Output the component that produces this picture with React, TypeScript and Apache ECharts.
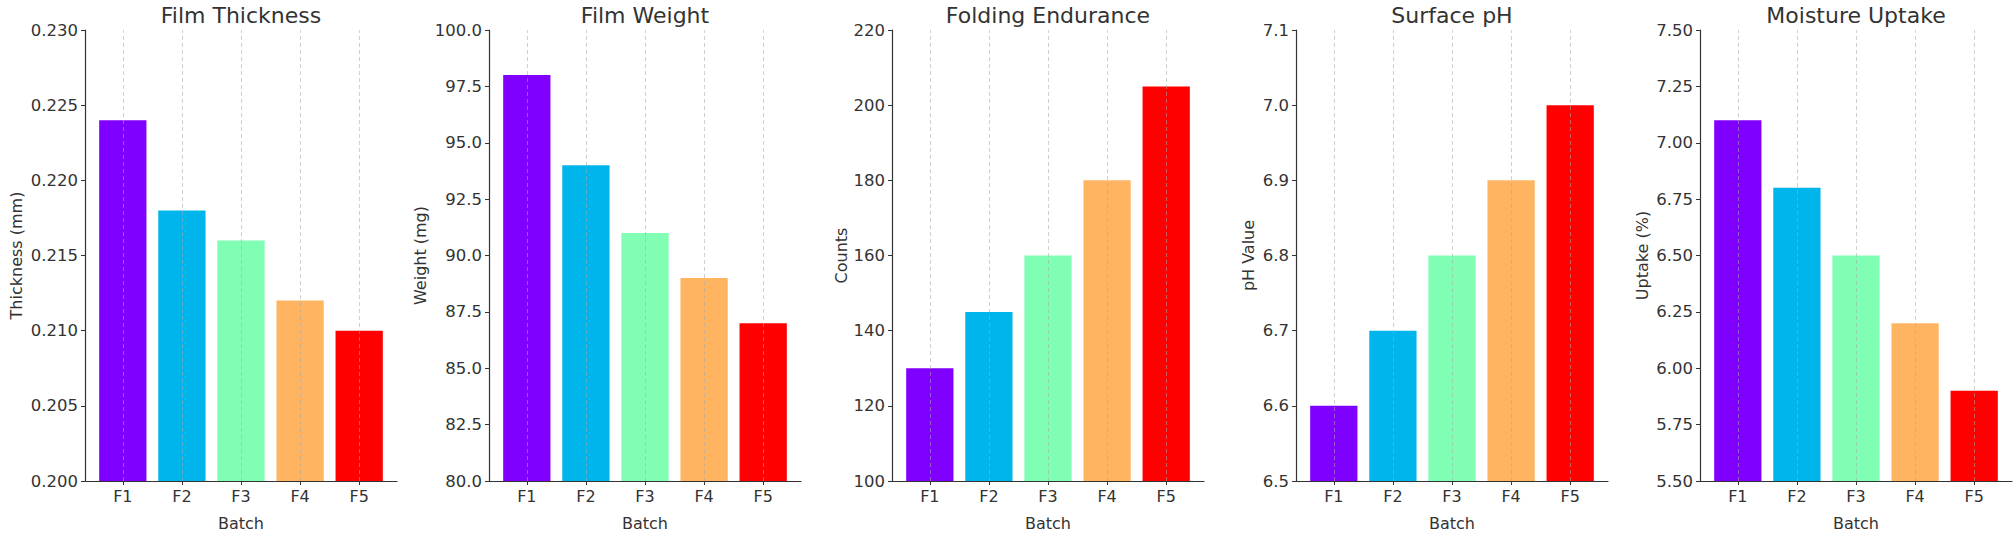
import React, { useEffect, useRef } from "react";
import * as echarts from "echarts";

// ---- data ----
const batches = ["F1", "F2", "F3", "F4", "F5"];
const barColors = ["#8000ff", "#00b5eb", "#80ffb4", "#ffb462", "#ff0000"];

const panelTitles = ["Film Thickness", "Film Weight", "Folding Endurance", "Surface pH", "Moisture Uptake"];
const yAxisNames = ["Thickness (mm)", "Weight (mg)", "Counts", "pH Value", "Uptake (%)"];
const xAxisName = "Batch";

const thickness = [0.224, 0.218, 0.216, 0.212, 0.21];
const weight = [98, 94, 91, 89, 87];
const folding = [130, 145, 160, 180, 205];
const surfacePH = [6.6, 6.7, 6.8, 6.9, 7.0];
const moisture = [7.1, 6.8, 6.5, 6.2, 5.9];

const yMins = [0.2, 80, 100, 6.5, 5.5];
const yMaxs = [0.23, 100, 220, 7.1, 7.5];
const yIntervals = [0.005, 2.5, 20, 0.1, 0.25];
const yDecimals = [3, 1, 0, 1, 2];

// ---- layout ----
const W = 2016;
const H = 536;
const gridLefts = [85, 489, 892, 1296, 1700];
const gridWidth = 312;
const gridTop = 30;
const gridHeight = 453;
const yNameGaps = [61, 61, 43, 40, 50];
const xMin = -0.64;
const xMax = 4.64;
const FONT = "DejaVu Sans";
const TEXT = "#333333";
const AXIS = "#333333";

const allValues = [thickness, weight, folding, surfacePH, moisture];

export default function App() {
  const ref = useRef<HTMLDivElement>(null);

  useEffect(() => {
    if (!ref.current) return;
    const chart = echarts.init(ref.current, null, { renderer: "svg", width: W, height: H });
    const barWidth = (0.8 * gridWidth) / (xMax - xMin);
    const idx = [0, 1, 2, 3, 4];

    const option: any = {
      animation: false,
      backgroundColor: "#ffffff",
      textStyle: { fontFamily: FONT, color: TEXT },
      title: idx.map((p) => ({
        text: panelTitles[p],
        left: gridLefts[p] + gridWidth / 2,
        top: 4,
        textAlign: "center",
        padding: 0,
        textStyle: { fontFamily: FONT, fontSize: 22, fontWeight: "normal", color: TEXT },
      })),
      grid: idx.map((p) => ({
        left: gridLefts[p],
        top: gridTop,
        width: gridWidth,
        height: gridHeight,
        containLabel: false,
      })),
      xAxis: idx.map((p) => ({
        type: "value",
        gridIndex: p,
        min: xMin,
        max: xMax,
        name: xAxisName,
        nameLocation: "middle",
        nameGap: 34,
        nameTextStyle: { fontFamily: FONT, fontSize: 16, color: TEXT },
        axisLine: { show: true, onZero: false, lineStyle: { color: AXIS, width: 1.2 } },
        axisTick: {
          show: true,
          length: 4,
          customValues: idx,
          lineStyle: { color: AXIS, width: 1 },
        },
        axisLabel: {
          show: true,
          customValues: idx,
          margin: 7,
          fontFamily: FONT,
          fontSize: 16,
          color: TEXT,
          formatter: (v: number) => batches[Math.round(v)] ?? "",
        },
        splitLine: { show: false },
      })),
      yAxis: idx.map((p) => ({
        type: "value",
        gridIndex: p,
        min: yMins[p],
        max: yMaxs[p],
        interval: yIntervals[p],
        name: yAxisNames[p],
        nameLocation: "middle",
        nameRotate: 90,
        nameGap: yNameGaps[p],
        nameTextStyle: { fontFamily: FONT, fontSize: 16, color: TEXT },
        axisLine: { show: true, onZero: false, lineStyle: { color: AXIS, width: 1.2 } },
        axisTick: { show: true, length: 4, lineStyle: { color: AXIS, width: 1 } },
        axisLabel: {
          margin: 7,
          fontFamily: FONT,
          fontSize: 16.5,
          color: TEXT,
          formatter: (v: number) => v.toFixed(yDecimals[p]),
        },
        splitLine: { show: false },
      })),
      series: idx.map((p) => ({
        type: "bar",
        xAxisIndex: p,
        yAxisIndex: p,
        barWidth,
        data: allValues[p].map((v, i) => ({
          value: [i, v],
          itemStyle: { color: barColors[i] },
        })),
        markLine: {
          silent: true,
          symbol: "none",
          label: { show: false },
          lineStyle: { type: [4, 3], color: "rgba(170,170,170,0.55)", width: 1 },
          data: batches.map((_, i) => ({ xAxis: i })),
        },
      })),
    };

    chart.setOption(option);
    return () => chart.dispose();
  }, []);

  return (
    <div
      ref={ref}
      style={{ position: "fixed", left: 0, top: 0, width: W, height: H, background: "#fff" }}
    />
  );
}
